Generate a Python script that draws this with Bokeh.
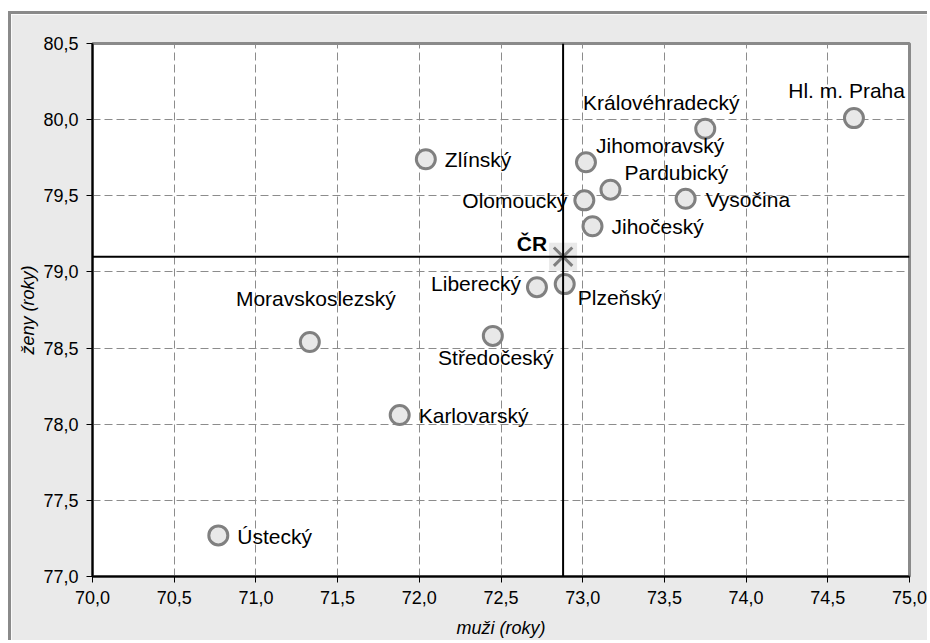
from bokeh.plotting import figure
from bokeh.models import ColumnDataSource, Span, FixedTicker, CustomJSTickFormatter, Range1d
from bokeh.core.properties import value
from bokeh.embed import file_html
from bokeh.resources import INLINE

# data
regions = ["Hl. m. Praha", "Královéhradecký", "Jihomoravský", "Pardubický", "Vysočina",
           "Olomoucký", "Jihočeský", "Zlínský", "Liberecký", "Plzeňský", "Středočeský",
           "Moravskoslezský", "Karlovarský", "Ústecký"]
muzi = [74.66, 73.75, 73.02, 73.17, 73.63, 73.01, 73.06, 72.04, 72.72, 72.89, 72.45, 71.33, 71.88, 70.77]
zeny = [80.01, 79.94, 79.72, 79.54, 79.48, 79.47, 79.30, 79.74, 78.90, 78.92, 78.58, 78.54, 78.06, 77.27]
cr_label = "ČR"
cr_muzi = 72.88
cr_zeny = 79.10
x_ticks = [70.0, 70.5, 71.0, 71.5, 72.0, 72.5, 73.0, 73.5, 74.0, 74.5, 75.0]
y_ticks = [77.0, 77.5, 78.0, 78.5, 79.0, 79.5, 80.0, 80.5]

# label placement (style)
align = ["right", "center", "left", "left", "left", "right", "left", "left", "right", "left",
         "center", "center", "left", "left"]
xoff = [51, -44, 10, 14, 20, -17, 19, 19, -16, 13, 3, 6, 19, 19]
yoff = [-28, -26, -17, -17, 1, 0, 0, 0, -4, 13, 22, -43, 0, 1]

FONT = "Liberation Sans"
src = ColumnDataSource(dict(x=muzi, y=zeny, name=regions, align=align, xo=xoff, yo=yoff))

p = figure(width=919, height=629, output_backend="svg", toolbar_location=None,
           x_range=Range1d(70, 75), y_range=Range1d(77, 80.5),
           min_border_left=81, min_border_top=29, min_border_right=21, min_border_bottom=67)
p.styles = {"border-left": "3px solid #8a8a8a", "border-top": "3px solid #8a8a8a",
            "margin-left": "8px", "margin-top": "11px"}
p.background_fill_color = "white"
p.border_fill_color = "#eaeaea"
p.outline_line_color = "#8a8a8a"
p.outline_line_width = 3

for ax in (p.xaxis[0], p.yaxis[0]):
    ax.axis_line_color = "black"
    ax.axis_line_width = 2
    ax.major_tick_line_color = "black"
    ax.major_tick_out = 6
    ax.major_tick_in = 0
    ax.minor_tick_line_color = None
    ax.major_label_text_font = FONT
    ax.major_label_text_font_size = "18px"
    ax.major_label_text_color = "black"
    ax.axis_label_text_font = FONT
    ax.axis_label_text_font_size = "18px"
    ax.axis_label_text_font_style = "italic"
    ax.axis_label_text_color = "black"
    ax.formatter = CustomJSTickFormatter(code="return tick.toFixed(1).replace('.', ',');")
p.xaxis.ticker = FixedTicker(ticks=x_ticks)
p.yaxis.ticker = FixedTicker(ticks=y_ticks)
p.xaxis.axis_label = "muži (roky)"
p.yaxis.axis_label = "ženy (roky)"
p.xaxis.major_label_standoff = 8
p.yaxis.major_label_standoff = 8
p.xaxis.axis_label_standoff = 11
p.yaxis.axis_label_standoff = 2

for g in (p.xgrid[0], p.ygrid[0]):
    g.grid_line_color = "#8c8c8c"
    g.grid_line_dash = "8 4"
    g.grid_line_width = 1

p.add_layout(Span(location=cr_muzi, dimension="height", line_color="black", line_width=2))
p.add_layout(Span(location=cr_zeny, dimension="width", line_color="black", line_width=2))

p.scatter(x="x", y="y", source=src, size=19, marker="circle", fill_color="#e8e8e8",
          line_color="#808080", line_width=3)
p.text(x="x", y="y", text="name", source=src, text_align="align", text_baseline="middle",
       x_offset="xo", y_offset="yo", text_font=value(FONT), text_font_size="21px",
       text_color="black")

cr = ColumnDataSource(dict(x=[cr_muzi], y=[cr_zeny], name=[cr_label]))
p.scatter(x="x", y="y", source=cr, size=28, marker="square", fill_color="#e0e0e0",
          fill_alpha=0.7, line_color=None)
p.scatter(x="x", y="y", source=cr, size=26, marker="x", line_color="#7f7f7f", line_width=3)
p.text(x="x", y="y", text="name", source=cr, text_align="right", text_baseline="middle",
       x_offset=-16, y_offset=-13, text_font=value(FONT), text_font_size="21px",
       text_font_style="bold", text_color="black")

open("out.html", "w").write(file_html(p, INLINE))
